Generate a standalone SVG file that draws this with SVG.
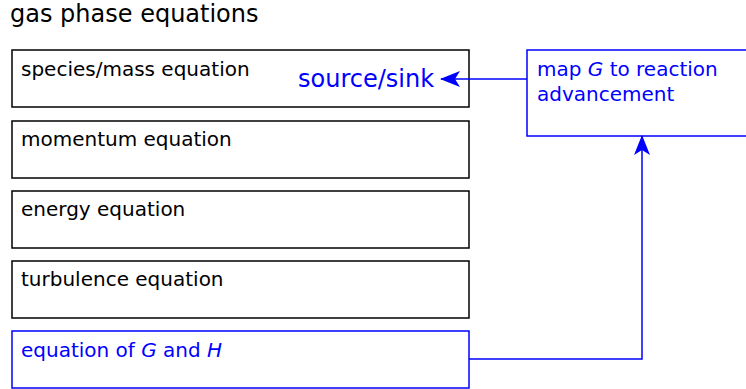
<svg xmlns="http://www.w3.org/2000/svg" width="746" height="389" viewBox="0 0 746 389">
<style>
text{font-family:"DejaVu Sans",sans-serif;}
.t{font-size:20px;fill:#000;}
.b{font-size:20px;fill:#0000ff;}
.box{fill:#fff;stroke:#000;stroke-width:1.5;}
.bbox{fill:#fff;stroke:#0000ff;stroke-width:1.5;}
.c{fill:none;stroke:#0000ff;stroke-width:1.5;}
</style>
<defs>
<marker id="ah" viewBox="0 0 20 16" refX="19" refY="8" markerWidth="20" markerHeight="16" markerUnits="userSpaceOnUse" orient="auto">
<path d="M0,0 L20,8 L0,16 L5,8 z" fill="#0000ff"/>
</marker>
</defs>
<rect width="746" height="389" fill="#fff"/>
<text x="10" y="22" style="font-size:24px">gas phase equations</text>
<g id="species"><rect class="box" x="12" y="50" width="457" height="57"/><text class="t" x="21" y="76">species/mass equation</text><text x="298" y="87" style="font-size:24px;fill:#0000ff">source/sink</text></g>
<g id="momentum"><rect class="box" x="12" y="121" width="457" height="57"/><text class="t" x="21" y="146">momentum equation</text></g>
<g id="energy"><rect class="box" x="12" y="191" width="457" height="57"/><text class="t" x="21" y="216">energy equation</text></g>
<g id="turbulence"><rect class="box" x="12" y="261" width="457" height="57"/><text class="t" x="21" y="286">turbulence equation</text></g>
<g id="gh"><rect class="bbox" x="12" y="331" width="457" height="57"/><text class="b" x="21" y="357">equation of <tspan font-style="italic">G</tspan> and <tspan font-style="italic">H</tspan></text></g>
<g id="map"><rect class="bbox" x="527" y="50" width="230" height="86"/><text class="b" x="537" y="76">map <tspan font-style="italic">G</tspan> to reaction</text><text class="b" x="537" y="101">advancement</text></g>
<g id="connectors">
<path class="c" d="M527,79 H441" marker-end="url(#ah)"/>
<path class="c" d="M469,359 H642 V136" marker-end="url(#ah)"/>
</g>
</svg>
